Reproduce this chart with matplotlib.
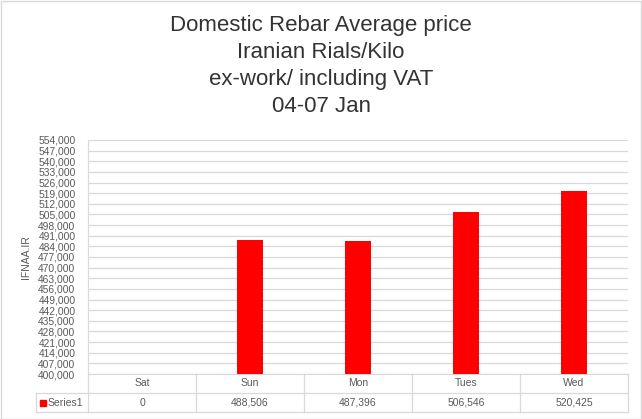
import numpy as np
import matplotlib
matplotlib.use("Agg")
import matplotlib.pyplot as plt
import matplotlib.transforms as mtransforms
from matplotlib.patches import Rectangle

days = ["Sat", "Sun", "Mon", "Tues", "Wed"]
prices = [0, 488506, 487396, 506546, 520425]
series_name = "Series1"
y_ticks = list(range(400000, 554001, 7000))
title_lines = ["Domestic Rebar Average price", "Iranian Rials/Kilo",
               "ex-work/ including VAT", "04-07 Jan"]

plt.rcParams['font.family'] = ['Liberation Sans', 'DejaVu Sans']
grid_c = "#d9d9d9"
text_c = "#595959"

fig = plt.figure(figsize=(6.42, 4.19), dpi=100)
W, H = 642, 419
ax = fig.add_axes([88 / W, 45 / H, 540 / W, 234 / H])

x = np.arange(len(days))
ax.bar(x, prices, width=0.24, color="#ff0000", zorder=3)
ax.set_xlim(-0.5, len(days) - 0.5)
ax.set_ylim(y_ticks[0], y_ticks[-1])
ax.set_yticks(y_ticks)
ax.set_yticklabels([f"{v:,}" for v in y_ticks], fontsize=7.4, color=text_c)
ax.tick_params(axis="y", length=0, pad=9)
ax.set_xticks([])
ax.yaxis.grid(True, color=grid_c, linewidth=0.9)
ax.set_axisbelow(True)
for s in ["top", "right"]:
    ax.spines[s].set_visible(False)
ax.spines["left"].set_color(grid_c)
ax.spines["bottom"].set_color(grid_c)
ax.set_ylabel("IFNAA.IR", fontsize=7.5, color=text_c, labelpad=5)

# data table below the axes
tr = mtransforms.blended_transform_factory(ax.transData, ax.transAxes)
h = 234
r1 = -19 / h
r2 = -38 / h
lkw = dict(color=grid_c, linewidth=0.9, transform=tr, clip_on=False)
ax.plot([-0.5, len(days) - 0.5], [r1, r1], **lkw)
ax.plot([-0.5, len(days) - 0.5], [r2, r2], **lkw)
for b in np.arange(-0.5, len(days), 1.0):
    ax.plot([b, b], [0, r2], **lkw)
# label cell
xl = -0.5 - 52 / 108
ax.plot([xl, -0.5], [r1, r1], **lkw)
ax.plot([xl, -0.5], [r2, r2], **lkw)
ax.plot([xl, xl], [r1, r2], **lkw)
for i, d in enumerate(days):
    ax.text(i, r1 / 2 + 1 / h, d, transform=tr, ha="center", va="center",
            fontsize=7.5, color=text_c)
    ax.text(i, (r1 + r2) / 2, f"{prices[i]:,}", transform=tr, ha="center",
            va="center", fontsize=7.5, color=text_c)
ax.add_patch(Rectangle((xl + 4 / 108, (r1 + r2) / 2 - 3 / h), 6 / 108, 6 / h,
                       transform=tr, color="#ff0000", clip_on=False))
ax.text(xl + 12 / 108, (r1 + r2) / 2, series_name, transform=tr, ha="left",
        va="center", fontsize=7.5, color=text_c)

# title
for k, line in enumerate(title_lines):
    fig.text(0.5, 1 - (25 + 27 * k) / H, line, ha="center", va="center",
             fontsize=16, color="#333333")

fig.add_artist(Rectangle((0.5 / W, 0.5 / H), 1 - 1.5 / W, 1 - 1.5 / H,
                         transform=fig.transFigure, fill=False,
                         edgecolor=grid_c, linewidth=1))

fig.savefig("out.png", dpi=100)
